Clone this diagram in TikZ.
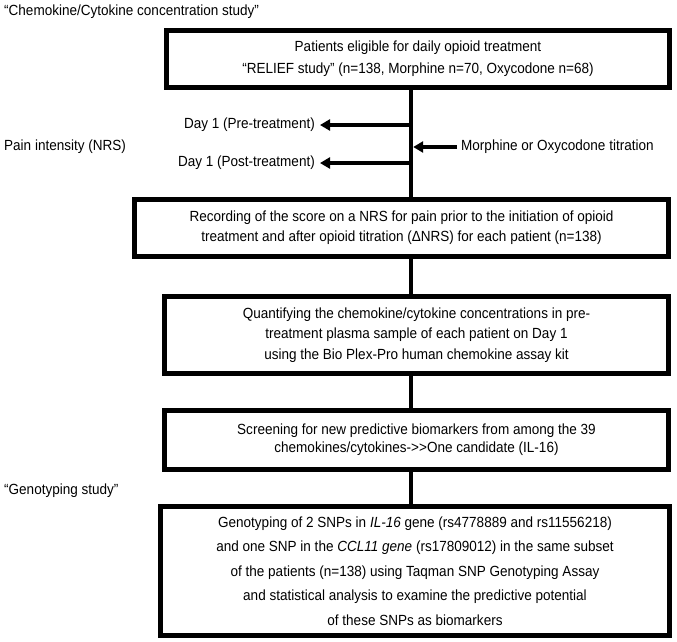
\documentclass[tikz,border=0pt]{standalone}
\usepackage{fontspec}
\setmainfont{Liberation Sans}[FakeStretch=0.92]
\usetikzlibrary{arrows.meta,positioning}
\tikzset
{
    process/.style={rectangle, draw=black, line width=5pt, align=center, inner sep=0pt},
    note/.style={inner sep=1pt, align=left},
    link/.style={line width=4.5pt},
    arrow/.style={line width=3.5pt, -{Triangle[length=10pt,width=11pt]}},
}

\begin{document}
\begin{tikzpicture}[x=1pt, y=-1pt, font=\fontsize{14.7}{20}\selectfont]
	\useasboundingbox (0,0) rectangle (677,641);
	\coordinate (trunk) at (411,0);

	% boxes of the flow
	\node (p1) [process, minimum width=503pt, minimum height=57pt, font=\fontsize{14.7}{22}\selectfont] at (418,59) {Patients eligible for daily opioid treatment\\“RELIEF study” (n=138, Morphine n=70, Oxycodone n=68)};
	\node (p2) [process, minimum width=534pt, minimum height=57pt] at (401.5,228) {Recording of the score on a NRS for pain prior to the initiation of opioid\\treatment and after opioid titration (ΔNRS) for each patient (n=138)};
	\node (p3) [process, minimum width=504pt, minimum height=77pt, font=\fontsize{14.7}{20.5}\selectfont] at (416.5,335) {Quantifying the chemokine/cytokine concentrations in pre-\\treatment plasma sample of each patient on Day 1\\using the Bio Plex-Pro human chemokine assay kit};
	\node (p4) [process, minimum width=504pt, minimum height=59pt, font=\fontsize{14.7}{18}\selectfont] at (416.5,440) {Screening for new predictive biomarkers from among the 39\\chemokines/cytokines-{>}{>}One candidate (IL-16)};
	\node (p5) [process, minimum width=509pt, minimum height=129pt, font=\fontsize{14.7}{24.5}\selectfont] at (415,571) {Genotyping of 2 SNPs in \textit{IL-16} gene (rs4778889 and rs11556218)\\and one SNP in the \textit{CCL11 gene} (rs17809012) in the same subset\\of the patients (n=138) using Taqman SNP Genotyping Assay\\and statistical analysis to examine the predictive potential\\of these SNPs as biomarkers};

	% side texts
	\node (chemo) [note, anchor=west] at (3,12) {“Chemokine/Cytokine concentration study”};
	\node (nrs) [note, anchor=west] at (3,147) {Pain intensity (NRS)};
	\node (geno) [note, anchor=west] at (3,491) {“Genotyping study”};
	\node (pre) [note, anchor=east] at (316,125) {Day 1 (Pre-treatment)};
	\node (post) [note, anchor=east] at (316,163) {Day 1 (Post-treatment)};
	\node (titr) [note, anchor=west] at (460,147) {Morphine or Oxycodone titration};

	\draw [link] (p1.south -| trunk) -- (p2.north -| trunk);
	\draw [link] (p2.south -| trunk) -- (p3.north -| trunk);
	\draw [link] (p3.south -| trunk) -- (p4.north -| trunk);
	\draw [link] (p4.south -| trunk) -- (p5.north -| trunk);
	\draw [arrow] (pre.east -| trunk) -- ([xshift=4pt]pre.east);
	\draw [arrow] (post.east -| trunk) -- ([xshift=4pt]post.east);
	\draw [arrow, shorten >=2.2pt] ([xshift=-3pt]titr.west) -- (titr.west -| trunk);
\end{tikzpicture}
\end{document}
